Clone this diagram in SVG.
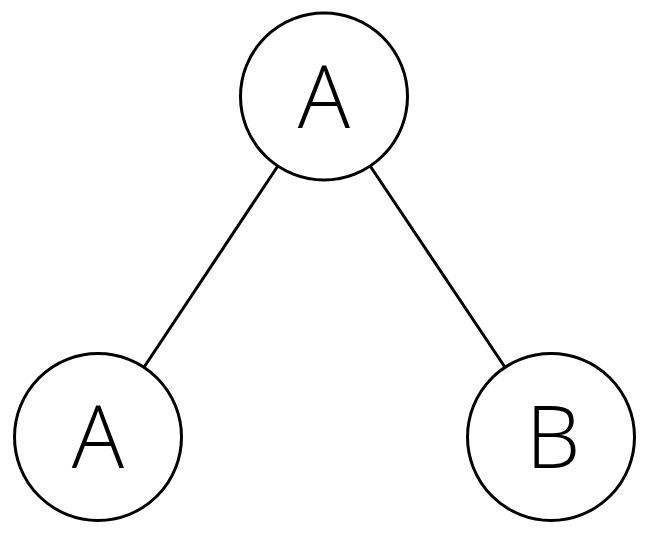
<svg xmlns="http://www.w3.org/2000/svg" width="655" height="539" viewBox="0 0 655 539">
<style>
.node circle{fill:#fff;stroke:#000;stroke-width:3}
.node text{font-family:"Open Sans","DejaVu Sans",sans-serif;font-weight:350;font-size:87px;text-anchor:middle;fill:#000}
.edges line{stroke:#000;stroke-width:3}
</style>
<rect width="655" height="539" fill="#fff"/>
<g class="edges">
<line x1="277.5" y1="166.5" x2="144.5" y2="366.5"/>
<line x1="370.5" y1="166.5" x2="504.5" y2="366.5"/>
</g>
<g id="n1" class="node"><circle cx="324" cy="96.5" r="83.5"/><text x="324" y="127.5">A</text></g>
<g id="n2" class="node"><circle cx="98" cy="437" r="83.5"/><text x="98" y="467.5">A</text></g>
<g id="n3" class="node"><circle cx="551" cy="437" r="83.5"/><text x="553" y="467.5">B</text></g>
</svg>
